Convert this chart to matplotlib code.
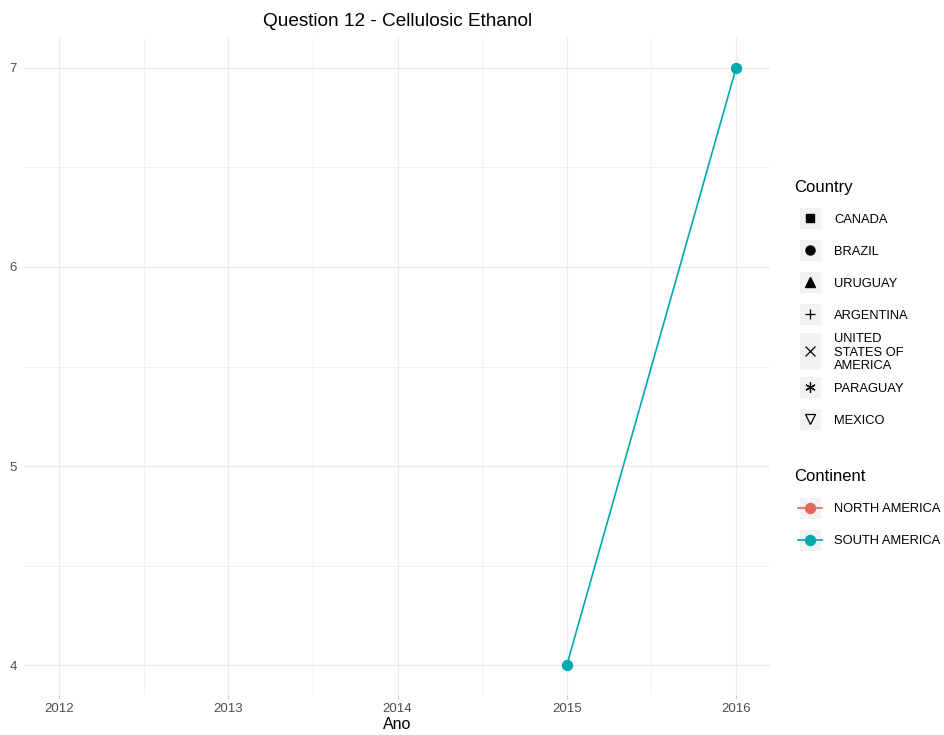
import matplotlib.pyplot as plt
from matplotlib.patches import Rectangle

plt.rcParams['font.family'] = ['Liberation Sans', 'DejaVu Sans']

# dados
anos = [2015, 2016]
valores = [4, 7]
paises = ["CANADA", "BRAZIL", "URUGUAY", "ARGENTINA",
          "UNITED\nSTATES OF\nAMERICA", "PARAGUAY", "MEXICO"]
marcadores = ["s", "o", "^", "+", "x", (6, 2, 0), "v"]
continentes = ["NORTH AMERICA", "SOUTH AMERICA"]
cores = ["#E5675C", "#00A9AE"]

W, H = 945, 735
fig = plt.figure(figsize=(W / 100, H / 100), dpi=100)
ax = fig.add_axes([25 / W, 40 / H, 745 / W, 657 / H])

ax.plot(anos, valores, color=cores[1], lw=1.2, marker="o", ms=7.2, zorder=3)

ax.set_xlim(2011.8, 2016.2)
ax.set_ylim(3.85, 7.15)
ax.set_xticks([2012, 2013, 2014, 2015, 2016])
ax.set_xticks([2012.5, 2013.5, 2014.5, 2015.5], minor=True)
ax.set_yticks([4, 5, 6, 7])
ax.set_yticks([4.5, 5.5, 6.5], minor=True)
ax.grid(True, which="major", color="#EBEBEB", lw=0.9)
ax.grid(True, which="minor", color="#EBEBEB", lw=0.5)
ax.set_axisbelow(True)
for s in ax.spines.values():
    s.set_visible(False)
ax.tick_params(axis="x", which="major", length=3, color="#CCCCCC", labelsize=9.5,
               labelcolor="#4D4D4D", pad=3)
ax.tick_params(axis="x", which="minor", length=0)
ax.tick_params(axis="y", which="both", length=0, labelsize=9.5,
               labelcolor="#4D4D4D", pad=6)
ax.set_xlabel("Ano", fontsize=11.5, labelpad=1)
ax.set_title("Question 12 - Cellulosic Ethanol", fontsize=13.7, pad=9)

# legenda desenhada a mao em pixels
lg = fig.add_axes([0, 0, 1, 1])
lg.set_xlim(0, W)
lg.set_ylim(H, 0)
lg.axis("off")

lg.text(794, 187, "Country", fontsize=12, va="center", ha="left")
linhas = [218, 250, 282, 314, 351, 387, 419]
for nome, m, y in zip(paises, marcadores, linhas):
    h = 37 if "\n" in nome else 21
    lg.add_patch(Rectangle((799.5, y - h / 2), 21, h, color="#F2F2F2", lw=0))
    if m in ("+", "x", "v", (6, 2, 0)):
        lg.plot(810, y, marker=m, ms=7.5,
                mfc="none" if m == "v" else "black", mec="black", mew=0.9)
    elif m == "s":
        lg.plot(810, y, marker=m, ms=5.5, color="black")
    else:
        lg.plot(810, y, marker=m, ms=6.5, color="black")
    lg.text(834, y + 1.5, nome, fontsize=9.3, va="center", ha="left", linespacing=1.12)

lg.text(794, 476, "Continent", fontsize=12, va="center", ha="left")
for nome, c, y in zip(continentes, cores, [508, 540]):
    lg.add_patch(Rectangle((799.5, y - 10.5), 21, 21, color="#F2F2F2", lw=0))
    lg.plot([798, 822], [y, y], color=c, lw=1.2)
    lg.plot(810, y, marker="o", ms=7.2, color=c)
    lg.text(834, y + 1.5, nome, fontsize=9.3, va="center", ha="left")

fig.savefig("out.png", dpi=100)
